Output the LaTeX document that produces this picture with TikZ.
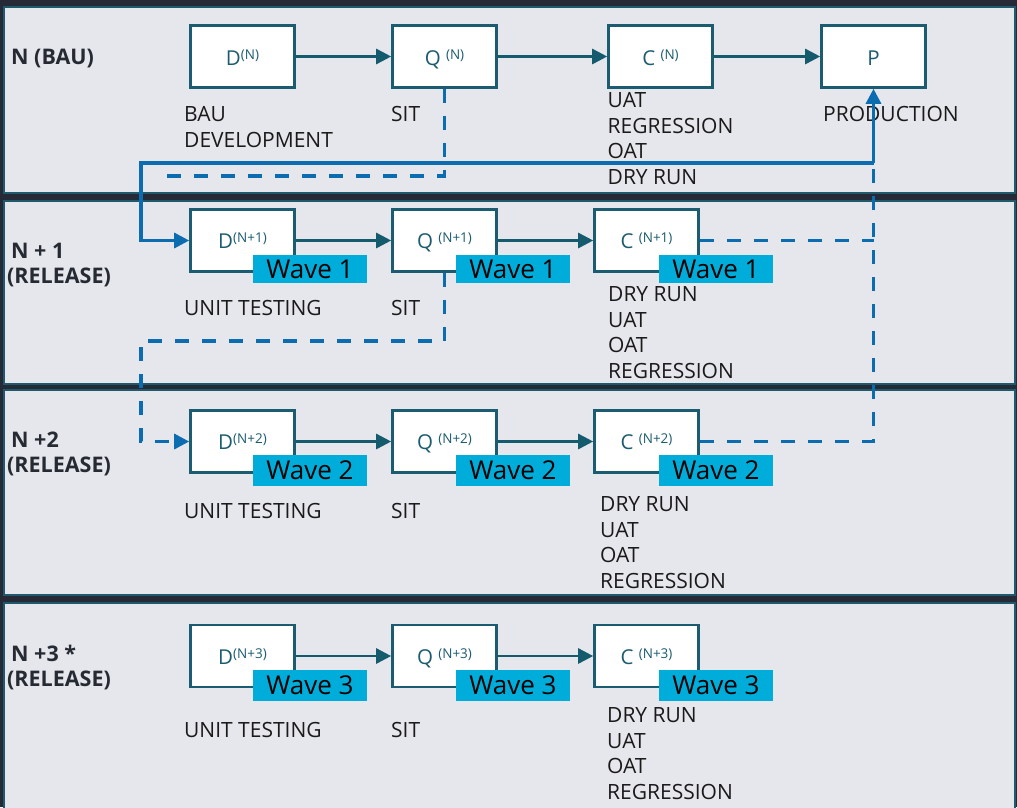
\documentclass[tikz,border=0pt]{standalone}
\usepackage{fontspec}
\setmainfont{Open Sans}
\usetikzlibrary{arrows.meta}

\definecolor{darkbg}{HTML}{262A37}
\definecolor{panelbg}{HTML}{E6E7EC}
\definecolor{panelline}{HTML}{1E5A6C}
\definecolor{boxline}{HTML}{1B5C70}
\definecolor{flowteal}{HTML}{155B6E}
\definecolor{linkblue}{HTML}{0B6DB0}
\definecolor{wavecyan}{HTML}{00ADDA}
\definecolor{notetext}{HTML}{1A1A1A}
\definecolor{titletext}{HTML}{262A33}

% raised iteration index next to a stage letter
\newcommand\stagesup[1]{\raisebox{6pt}{\fontsize{13.5}{14}\selectfont #1}}

\begin{document}
\begin{tikzpicture}[x=1pt,y=-1pt,
  panel/.style={fill=panelbg, draw=panelline, line width=2pt},
  stagebox/.style={draw=boxline, fill=white, line width=2.6pt,
    minimum width=104pt, minimum height=62pt, inner sep=0pt},
  stagelabel/.style={text=boxline, font=\fontsize{20.5}{24}\selectfont,
    anchor=base, inner sep=0pt},
  wavetag/.style={fill=wavecyan, text=black, font=\fontsize{26}{28}\selectfont,
    minimum width=114pt, inner sep=0pt},
  note/.style={text=notetext, font=\fontsize{21}{25.4}\selectfont,
    align=left, anchor=base west, inner sep=0pt},
  rowtitle/.style={text=titletext, font=\bfseries\fontsize{21.5}{25}\selectfont,
    align=left, anchor=base west, inner sep=0pt},
  flow/.style={draw=flowteal, line width=2.6pt,
    -{Triangle[length=15pt,width=15pt]}},
  link/.style={draw=linkblue, line width=3.2pt},
  linkdash/.style={link, dash pattern=on 14pt off 13pt},
  linktip/.style={-{Triangle[length=15pt,width=15pt]}}
]
\useasboundingbox (0,0) rectangle (1017,807);
\fill[darkbg] (0,0) rectangle (1017,807);

% swim lanes
\draw[panel] (4,7) rectangle (1015,193);
\draw[panel] (4,201) rectangle (1015,384);
\draw[panel] (4,390) rectangle (1015,595);
\draw[panel] (4,603) rectangle (1015,820);

% lane titles (anchored on the baseline of their last line)
\node[rowtitle] (r0) at (11,64) {N (BAU)};
\node[rowtitle] (r1) at (7,283) {\kern4pt N + 1\\(RELEASE)};
\node[rowtitle] (r2) at (7,472) {\kern4pt N +2\\(RELEASE)};
\node[rowtitle] (r3) at (7,686) {\kern4pt N +3 *\\(RELEASE)};

% ---- lane N (BAU)
\node[stagebox] (D0) at (242.5,56.5) {};
\node[stagebox] (Q0) at (444.5,56.5) {};
\node[stagebox] (C0) at (660.5,56.5) {};
\node[stagebox] (P0) at (873.5,56.5) {};
\node[stagelabel] (D0l) at (242.5,65) {D\stagesup{(N)}};
\node[stagelabel] (Q0l) at (444.5,65) {Q \stagesup{(N)}};
\node[stagelabel] (C0l) at (660.5,65) {C \stagesup{(N)}};
\node[stagelabel] (P0l) at (873.5,65) {P};
\draw[flow] (D0) -- (Q0);
\draw[flow] (Q0) -- (C0);
\draw[flow] (C0) -- (P0);
\node[note] (n0d) at (184,147) {BAU\\DEVELOPMENT};
\node[note] (n0q) at (391,121) {SIT};
\node[note] (n0c) at (607.5,184) {UAT\\REGRESSION\\OAT\\DRY RUN};
\node[note] (n0p) at (823,121) {PRODUCTION};

% ---- lane N + 1
\node[stagebox] (D1) at (242.5,240.5) {};
\node[stagebox] (Q1) at (444.5,240.5) {};
\node[stagebox] (C1) at (646.5,240.5) {};
\node[stagelabel] (D1l) at (242.5,248.5) {D\stagesup{(N+1)}};
\node[stagelabel] (Q1l) at (444.5,248.5) {Q \stagesup{(N+1)}};
\node[stagelabel] (C1l) at (646.5,248.5) {C \stagesup{(N+1)}};
\draw[flow] (D1) -- (Q1);
\draw[flow] (Q1) -- (C1);
\node[note] (n1d) at (184,315) {UNIT TESTING};
\node[note] (n1q) at (391,315) {SIT};
\node[note] (n1c) at (608,378) {DRY RUN\\UAT\\OAT\\REGRESSION};

% ---- lane N +2
\node[stagebox] (D2) at (242.5,441.5) {};
\node[stagebox] (Q2) at (444.5,441.5) {};
\node[stagebox] (C2) at (646.5,441.5) {};
\node[stagelabel] (D2l) at (242.5,449.5) {D\stagesup{(N+2)}};
\node[stagelabel] (Q2l) at (444.5,449.5) {Q \stagesup{(N+2)}};
\node[stagelabel] (C2l) at (646.5,449.5) {C \stagesup{(N+2)}};
\draw[flow] (D2) -- (Q2);
\draw[flow] (Q2) -- (C2);
\node[note] (n2d) at (184,518) {UNIT TESTING};
\node[note] (n2q) at (391,518) {SIT};
\node[note] (n2c) at (600,588) {DRY RUN\\UAT\\OAT\\REGRESSION};

% ---- lane N +3
\node[stagebox] (D3) at (242.5,656) {};
\node[stagebox] (Q3) at (444.5,656) {};
\node[stagebox] (C3) at (646.5,656) {};
\node[stagelabel] (D3l) at (242.5,664.5) {D\stagesup{(N+3)}};
\node[stagelabel] (Q3l) at (444.5,664.5) {Q \stagesup{(N+3)}};
\node[stagelabel] (C3l) at (646.5,664.5) {C \stagesup{(N+3)}};
\draw[flow] (D3) -- (Q3);
\draw[flow] (Q3) -- (C3);
\node[note] (n3d) at (184,737) {UNIT TESTING};
\node[note] (n3q) at (391,737) {SIT};
\node[note] (n3c) at (607,799) {DRY RUN\\UAT\\OAT\\REGRESSION};

% promotion links between lanes
\coordinate (jr) at (873.5,163);
\coordinate (jl) at (141,163);
\coordinate (qe0) at (155,176);
\coordinate (bend1) at (141,341);
\coordinate (c1end) at (873.5,240.5);

\draw[linkdash] (Q0.south) |- (qe0);
\draw[linkdash, linktip] (Q1.south) |- (bend1) |- (D2.west);
\draw[linkdash] (C1.east) -- (c1end);
\draw[linkdash] (C2.east) -| (jr);
\draw[link, linktip] (jr) -- (P0.south);
\draw[link, linktip] (jr) -- (jl) |- (D1.west);

% wave tags
\node[wavetag, minimum height=28pt] (W1d) at (310,269) {Wave 1};
\node[wavetag, minimum height=28pt] (W1q) at (513,269) {Wave 1};
\node[wavetag, minimum height=28pt] (W1c) at (716,269) {Wave 1};
\node[wavetag, minimum height=31pt] (W2d) at (310,470.5) {Wave 2};
\node[wavetag, minimum height=31pt] (W2q) at (513,470.5) {Wave 2};
\node[wavetag, minimum height=31pt] (W2c) at (716,470.5) {Wave 2};
\node[wavetag, minimum height=31pt] (W3d) at (310,685.5) {Wave 3};
\node[wavetag, minimum height=31pt] (W3q) at (513,685.5) {Wave 3};
\node[wavetag, minimum height=31pt] (W3c) at (716,685.5) {Wave 3};
\end{tikzpicture}
\end{document}
